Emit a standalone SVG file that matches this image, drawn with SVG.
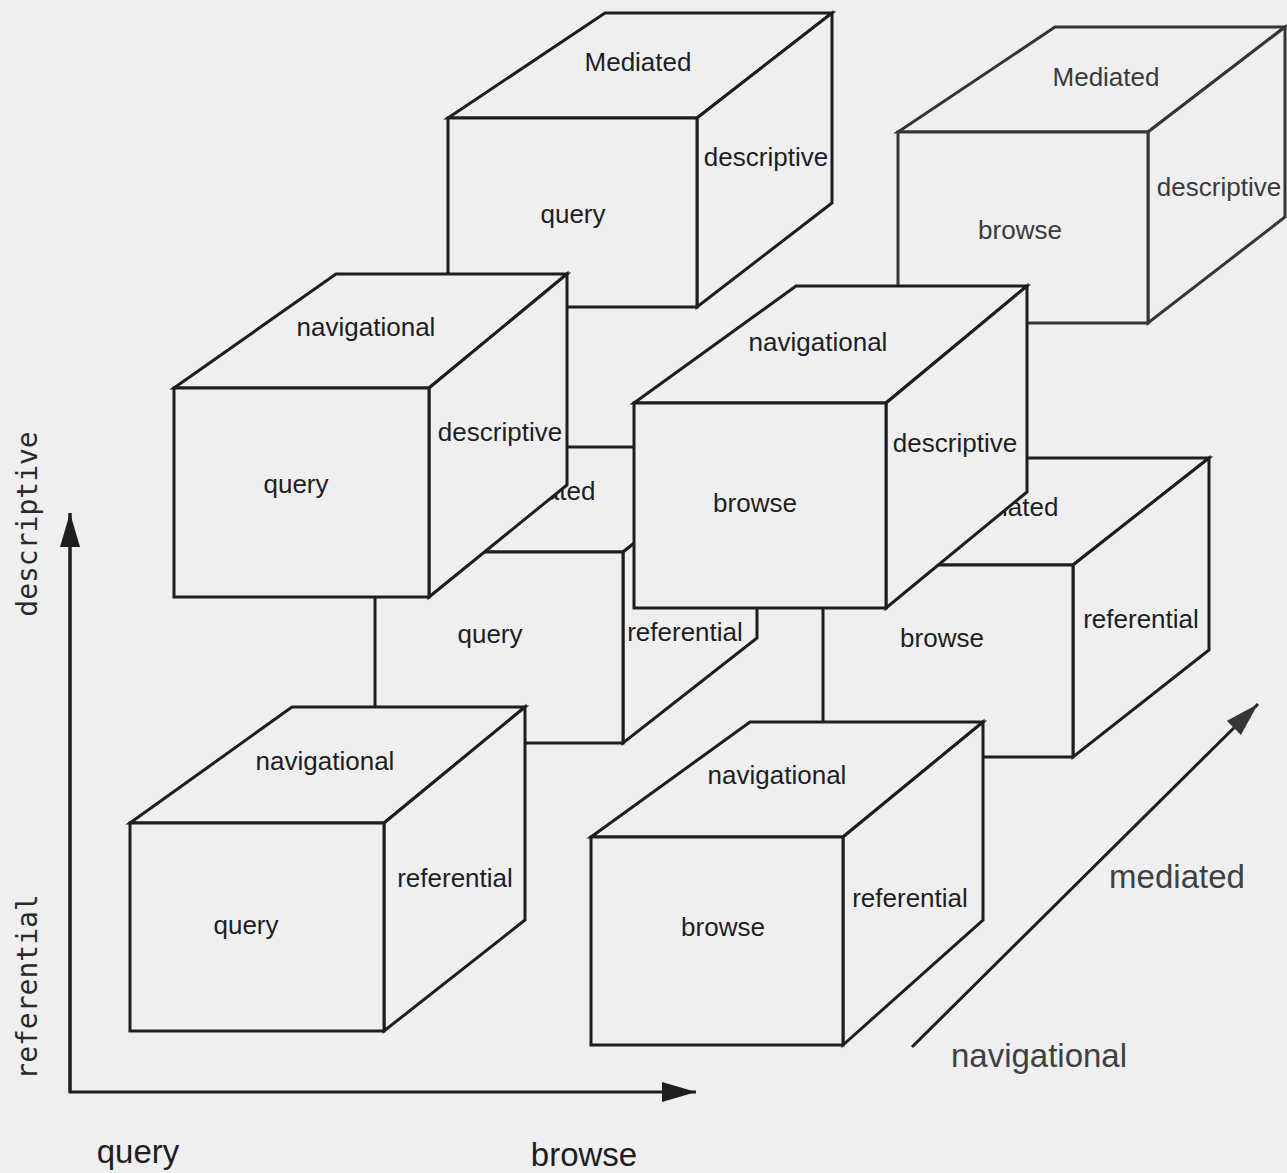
<svg xmlns="http://www.w3.org/2000/svg" width="1287" height="1173" viewBox="0 0 1287 1173">
  <style>
    .face { fill: #efeff1; stroke: #1e1e1e; stroke-width: 3; stroke-linejoin: miter; }
    .lbl { font-family: "Liberation Sans", Arial, sans-serif; font-size: 26px; fill: #1e1e1e; text-anchor: middle; }
    .soft .face { stroke: #363636; }
    .soft .lbl { fill: #3a3a3a; }
    .axis { stroke: #1e1e1e; stroke-width: 3; fill: none; }
    .axlbl { font-family: "Liberation Sans", Arial, sans-serif; font-size: 33px; fill: #1e1e1e; text-anchor: middle; }
    .axlbl.soft { fill: #404040; }
    .vlbl { font-family: "DejaVu Sans Mono", "Liberation Mono", monospace; font-size: 28px; fill: #2a2a2a; text-anchor: middle; }
  </style>
  <defs>
    <marker id="head" markerUnits="userSpaceOnUse" markerWidth="36" markerHeight="22" refX="34" refY="10" orient="auto">
      <path d="M0,0 L34,10 L0,20 Z" fill="#1e1e1e"/>
    </marker>
    <marker id="headSoft" markerUnits="userSpaceOnUse" markerWidth="36" markerHeight="22" refX="34" refY="10" orient="auto">
      <path d="M0,0 L34,10 L0,20 Z" fill="#363636"/>
    </marker>
  </defs>

  <rect width="1287" height="1173" fill="#efeff1"/>

  <!-- back row, upper layer -->
  <g id="cube-mediated-query-descriptive">
    <polygon class="face" points="448,118 605,13 832,13 697,118"/>
    <polygon class="face" points="697,118 832,13 832,203 697,307"/>
    <polygon class="face" points="448,118 697,118 697,307 448,307"/>
    <text class="lbl" x="638" y="71">Mediated</text>
    <text class="lbl" x="573" y="223">query</text>
    <text class="lbl" x="766" y="166">descriptive</text>
  </g>

  <g id="cube-mediated-browse-descriptive" class="soft">
    <polygon class="face" points="898,132 1055,27 1285,27 1148,132"/>
    <polygon class="face" points="1148,132 1285,27 1285,217 1148,323"/>
    <polygon class="face" points="898,132 1148,132 1148,323 898,323"/>
    <text class="lbl" x="1106" y="86">Mediated</text>
    <text class="lbl" x="1020" y="239">browse</text>
    <text class="lbl" x="1219" y="196">descriptive</text>
  </g>

  <!-- back row, lower layer -->
  <g id="cube-mediated-query-referential">
    <polygon class="face" points="375,552 531,447 757,447 623,552"/>
    <polygon class="face" points="623,552 757,447 757,638 623,743"/>
    <polygon class="face" points="375,552 623,552 623,743 375,743"/>
    <text class="lbl" x="542" y="500">Mediated</text>
    <text class="lbl" x="490" y="643">query</text>
    <text class="lbl" x="685" y="641">referential</text>
  </g>

  <g id="cube-mediated-browse-referential">
    <polygon class="face" points="823,565 980,458 1209,458 1073,565"/>
    <polygon class="face" points="1073,565 1209,458 1209,650 1073,757"/>
    <polygon class="face" points="823,565 1073,565 1073,757 823,757"/>
    <text class="lbl" x="1005" y="516">Mediated</text>
    <text class="lbl" x="942" y="647">browse</text>
    <text class="lbl" x="1141" y="628">referential</text>
  </g>

  <!-- front row, upper layer -->
  <g id="cube-navigational-query-descriptive">
    <polygon class="face" points="174,388 336,274 567,274 429,388"/>
    <polygon class="face" points="429,388 567,274 567,485 429,597"/>
    <polygon class="face" points="174,388 429,388 429,597 174,597"/>
    <text class="lbl" x="366" y="336">navigational</text>
    <text class="lbl" x="296" y="493">query</text>
    <text class="lbl" x="500" y="441">descriptive</text>
  </g>

  <g id="cube-navigational-browse-descriptive">
    <polygon class="face" points="634,403 796,286 1027,286 886,403"/>
    <polygon class="face" points="886,403 1027,286 1027,492 886,608"/>
    <polygon class="face" points="634,403 886,403 886,608 634,608"/>
    <text class="lbl" x="818" y="351">navigational</text>
    <text class="lbl" x="755" y="512">browse</text>
    <text class="lbl" x="955" y="452">descriptive</text>
  </g>

  <!-- front row, lower layer -->
  <g id="cube-navigational-query-referential">
    <polygon class="face" points="130,823 292,707 525,707 384,823"/>
    <polygon class="face" points="384,823 525,707 525,920 384,1031"/>
    <polygon class="face" points="130,823 384,823 384,1031 130,1031"/>
    <text class="lbl" x="325" y="770">navigational</text>
    <text class="lbl" x="246" y="934">query</text>
    <text class="lbl" x="455" y="887">referential</text>
  </g>

  <g id="cube-navigational-browse-referential">
    <polygon class="face" points="591,837 750,722 983,722 843,837"/>
    <polygon class="face" points="843,837 983,722 983,920 843,1045"/>
    <polygon class="face" points="591,837 843,837 843,1045 591,1045"/>
    <text class="lbl" x="777" y="784">navigational</text>
    <text class="lbl" x="723" y="936">browse</text>
    <text class="lbl" x="910" y="907">referential</text>
  </g>

  <!-- axes -->
  <g id="axes">
    <polyline class="axis" points="70,513 70,1092 696,1092" marker-end="url(#head)"/>
    <line class="axis" x1="70" y1="1092" x2="70" y2="513" marker-end="url(#head)"/>
    <line class="axis" x1="912" y1="1047" x2="1258" y2="704" stroke="#363636" marker-end="url(#headSoft)"/>
  </g>

  <g id="axis-labels">
    <text class="vlbl" transform="translate(37,524) rotate(-90)">descriptive</text>
    <text class="vlbl" transform="translate(37,987) rotate(-90)">referential</text>
    <text class="axlbl" x="138" y="1163">query</text>
    <text class="axlbl" x="584" y="1166">browse</text>
    <text class="axlbl soft" x="1177" y="888">mediated</text>
    <text class="axlbl soft" x="1039" y="1067">navigational</text>
  </g>
</svg>
